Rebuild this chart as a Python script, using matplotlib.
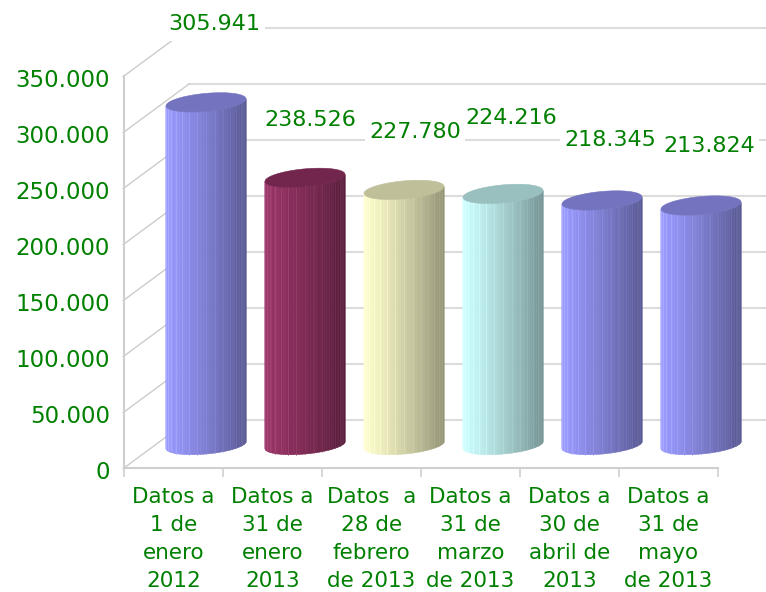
import numpy as np
import matplotlib
matplotlib.use('Agg')
import matplotlib.pyplot as plt
from matplotlib.colors import to_rgb
from matplotlib.patches import Rectangle
from matplotlib.transforms import ScaledTranslation

# data
categories = ['Datos a\n1 de\nenero\n2012', 'Datos a\n31 de\nenero\n2013', 'Datos  a\n28 de\nfebrero\nde 2013',
              'Datos a\n31 de\nmarzo\nde 2013', 'Datos a\n30 de\nabril de\n2013', 'Datos a\n31 de\nmayo\nde 2013']
values = [305941, 238526, 227780, 224216, 218345, 213824]
y_ticks = [0, 50000, 100000, 150000, 200000, 250000, 300000, 350000]
y_labels = ['0', '50.000', '100.000', '150.000', '200.000', '250.000', '300.000', '350.000']

# styles
bar_colors = ['#9999FF', '#993366', '#FFFFCC', '#CCFFFF', '#9999FF', '#9999FF']
label_shift = [(8.5, 80), (5, 60), (11, 60), (8, 78), (8, 62), (8, 62)]  # px from bar top centre
green = '#008000'
grid_c = '#dcdcdc'
diag_c = '#cccccc'

# one category is 99 px wide, 50000 units are 56 px high
px_x = 1 / 99
px_y = 50000 / 56
depth_x = 65 * px_x
depth_y = 48 * px_y

fig = plt.figure(figsize=(7.66, 5.92), dpi=100)
ax = fig.add_axes([124 / 766, 124 / 592, 594 / 766, 392 / 592])
ax.set_xlim(-0.5, 5.5)
ax.set_ylim(0, 350000)
ax.patch.set_alpha(0)


def cylinder(i, value, color):
    base = np.array(to_rgb(color))
    cx = i + 32.5 * px_x
    y0 = 23 * px_y
    rx = 40 * px_x
    tilt = 3.5 * px_y
    ry = 9 * px_y

    # front of the cylinder, cut into strips
    t = np.linspace(np.pi, 0, 45)
    for k in range(len(t) - 1):
        tt = np.linspace(t[k], t[k + 1], 4)
        xs = cx + rx * np.cos(tt)
        dy = tilt * np.cos(tt) - ry * np.sin(tt)
        f = (np.cos(tt.mean()) + 1) / 2
        shade = 1 - 0.42 * f ** 1.2
        c = base * shade
        ax.fill(np.r_[xs, xs[::-1]], np.r_[y0 + dy, (y0 + value + dy)[::-1]], color=c, lw=0.4,
                zorder=3, clip_on=False)
        # pale lines between some of the strips
        if k % 3 == 1:
            line_c = np.minimum(base * shade + 0.1, 1)
            ax.plot([xs[0], xs[0]], [y0 + dy[0], y0 + value + dy[0]], color=line_c, lw=0.7,
                    alpha=0.7 - 0.4 * f, zorder=3.1, clip_on=False)

    # top face
    tt = np.linspace(0, 2 * np.pi, 90)
    ax.fill(cx + rx * np.cos(tt), y0 + value + tilt * np.cos(tt) - ry * np.sin(tt), color=base * 0.75, lw=0.4,
            zorder=3.2, clip_on=False)


# back wall and the lines running to it
for v in y_ticks:
    ax.plot([-0.5 + depth_x, 5.5 + depth_x], [v + depth_y, v + depth_y], color=grid_c, lw=1.5, zorder=1, clip_on=False)
    ax.plot([-0.5, -0.5 + depth_x], [v, v + depth_y], color=diag_c, lw=1, zorder=1, clip_on=False)

for i, v in enumerate(values):
    cylinder(i, v, bar_colors[i])

# value labels sit on white boxes which cut the grid lines
for i, v in enumerate(values):
    sx, sy = label_shift[i]
    lx = i + (32.5 + sx) * px_x
    ly = v + (23 + sy) * px_y
    ax.add_patch(Rectangle((lx - 50 * px_x, ly - 19 * px_y), 100 * px_x, 38 * px_y, color='white', lw=0, zorder=2,
                           clip_on=False))
    ax.text(lx, ly, f'{v:,}'.replace(',', '.'), color=green, fontsize=16, ha='center', va='center_baseline',
            zorder=4, clip_on=False)

# axes
for s in ['top', 'right']:
    ax.spines[s].set_visible(False)
for s in ['left', 'bottom']:
    ax.spines[s].set_color('#cfcfcf')
    ax.spines[s].set_linewidth(1.5)

ax.set_yticks(y_ticks)
ax.set_yticklabels(y_labels)
ax.tick_params(axis='y', length=1.5, width=1, color='#cfcfcf', pad=8.5, labelsize=16.5, labelcolor=green)
# y labels sit 2 px lower than matplotlib puts them
for lab in ax.get_yticklabels():
    lab.set_transform(lab.get_transform() + ScaledTranslation(0, -2 / 100, fig.dpi_scale_trans))

ax.set_xticks(np.arange(-0.5, 6, 1))
ax.set_xticklabels([])
ax.set_xticks(np.arange(6), minor=True)
ax.set_xticklabels(categories, minor=True, linespacing=1.5)
ax.tick_params(axis='x', which='major', length=6.5, width=1.2, color='#cfcfcf')
ax.tick_params(axis='x', which='minor', length=0, pad=13.5, labelsize=15.5, labelcolor=green)

fig.savefig('out.png', dpi=100)
